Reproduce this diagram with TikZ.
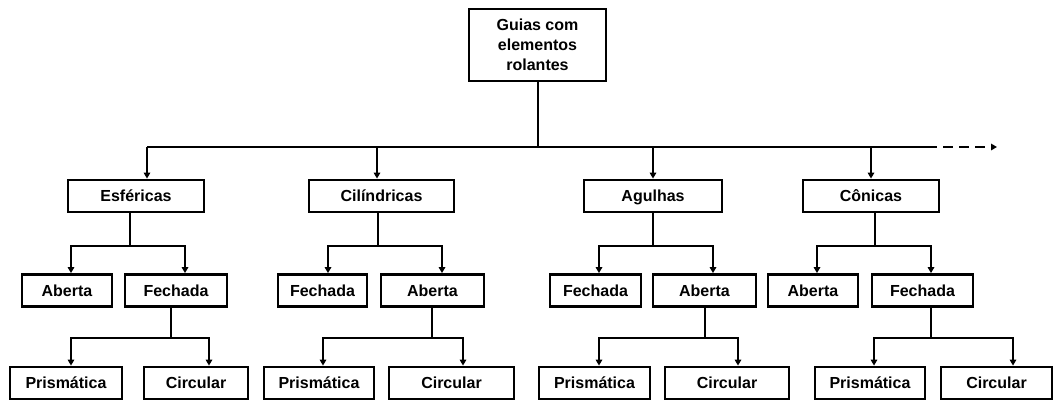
\documentclass[tikz,border=0pt]{standalone}
\usepackage{fontspec}
\setmainfont{Liberation Sans}
\usetikzlibrary{arrows.meta}
\tikzset{
  box/.style={draw, line width=2.8pt, inner sep=0pt,
    font=\bfseries\fontsize{16}{20}\selectfont, minimum height=32pt,
    text height=12pt, text depth=0.5pt},
  topbox/.style={draw, line width=2.8pt, inner sep=0pt, align=center,
    font=\bfseries\fontsize{16}{20}\selectfont},
  wire/.style={line width=2pt},
  arr/.style={line width=2pt, -{Triangle[length=6pt,width=6.5pt]}},
}
\begin{document}
\begin{tikzpicture}[x=1pt,y=-1pt]
\useasboundingbox (0,0) rectangle (1058,402);
% top
\node[topbox, minimum width=137pt, minimum height=72pt] (top) at (537.5,45) {Guias com\\elementos\\rolantes};
% level 1
\node[box, minimum width=136pt] (esf) at (136,196) {Esféricas};
\node[box, minimum width=145pt] (cil) at (381.5,196) {Cilíndricas};
\node[box, minimum width=138pt] (agu) at (653,196) {Agulhas};
\node[box, minimum width=136pt] (con) at (871,196) {Cônicas};
% level 2
\node[box, minimum width=90pt] (esfA) at (67,290.5) {Aberta};
\node[box, minimum width=102pt] (esfF) at (176,290.5) {Fechada};
\node[box, minimum width=89pt] (cilF) at (322.5,290.5) {Fechada};
\node[box, minimum width=103pt] (cilA) at (432.5,290.5) {Aberta};
\node[box, minimum width=91pt] (aguF) at (595.5,290.5) {Fechada};
\node[box, minimum width=103pt] (aguA) at (704.5,290.5) {Aberta};
\node[box, minimum width=90pt] (conA) at (813,290.5) {Aberta};
\node[box, minimum width=101pt] (conF) at (922.5,290.5) {Fechada};
% level 3
\node[box, minimum width=112pt] (esfP) at (66,383) {Prismática};
\node[box, minimum width=104pt] (esfC) at (196,383) {Circular};
\node[box, minimum width=110pt] (cilP) at (319,383) {Prismática};
\node[box, minimum width=125pt] (cilC) at (451.5,383) {Circular};
\node[box, minimum width=111pt] (aguP) at (594.5,383) {Prismática};
\node[box, minimum width=124pt] (aguC) at (727,383) {Circular};
\node[box, minimum width=110pt] (conP) at (870,383) {Prismática};
\node[box, minimum width=111pt] (conC) at (996.5,383) {Circular};
% bus
\coordinate (bus) at (top.south |- 0,147);
\coordinate (busL) at (147,147);
\coordinate (busS) at (927,147);
\coordinate (busE) at (997,147);
\draw[wire] (top.south) -- (bus);
\draw[wire] (busL) -- (busS);
\draw[arr, dash pattern=on 10pt off 6pt] (busS) -- (busE);
\draw[arr] (busL) -- (147,0 |- esf.north);
\draw[arr] (377,147) -- (377,0 |- cil.north);
\draw[arr] (653,147) -- (653,0 |- agu.north);
\draw[arr] (871,147) -- (871,0 |- con.north);
% level 1 -> level 2
\coordinate (jE) at (130,246);
\draw[wire] (esf.south -| jE) -- (jE);
\draw[arr] (jE) -| (71,0 |- esfA.north);
\draw[arr] (jE) -| (185,0 |- esfF.north);
\coordinate (jC) at (378,246);
\draw[wire] (cil.south -| jC) -- (jC);
\draw[arr] (jC) -| (328,0 |- cilF.north);
\draw[arr] (jC) -| (442,0 |- cilA.north);
\coordinate (jA) at (653,246);
\draw[wire] (agu.south -| jA) -- (jA);
\draw[arr] (jA) -| (599,0 |- aguF.north);
\draw[arr] (jA) -| (713,0 |- aguA.north);
\coordinate (jN) at (875,246);
\draw[wire] (con.south -| jN) -- (jN);
\draw[arr] (jN) -| (817,0 |- conA.north);
\draw[arr] (jN) -| (931,0 |- conF.north);
% level 2 -> level 3
\coordinate (kE) at (171,338);
\draw[wire] (esfF.south -| kE) -- (kE);
\draw[arr] (kE) -| (71,0 |- esfP.north);
\draw[arr] (kE) -| (209,0 |- esfC.north);
\coordinate (kC) at (432,338);
\draw[wire] (cilA.south -| kC) -- (kC);
\draw[arr] (kC) -| (323,0 |- cilP.north);
\draw[arr] (kC) -| (463,0 |- cilC.north);
\coordinate (kA) at (705,338);
\draw[wire] (aguA.south -| kA) -- (kA);
\draw[arr] (kA) -| (599,0 |- aguP.north);
\draw[arr] (kA) -| (738,0 |- aguC.north);
\coordinate (kN) at (931,338);
\draw[wire] (conF.south -| kN) -- (kN);
\draw[arr] (kN) -| (874,0 |- conP.north);
\draw[arr] (kN) -| (1013,0 |- conC.north);
\end{tikzpicture}
\end{document}
